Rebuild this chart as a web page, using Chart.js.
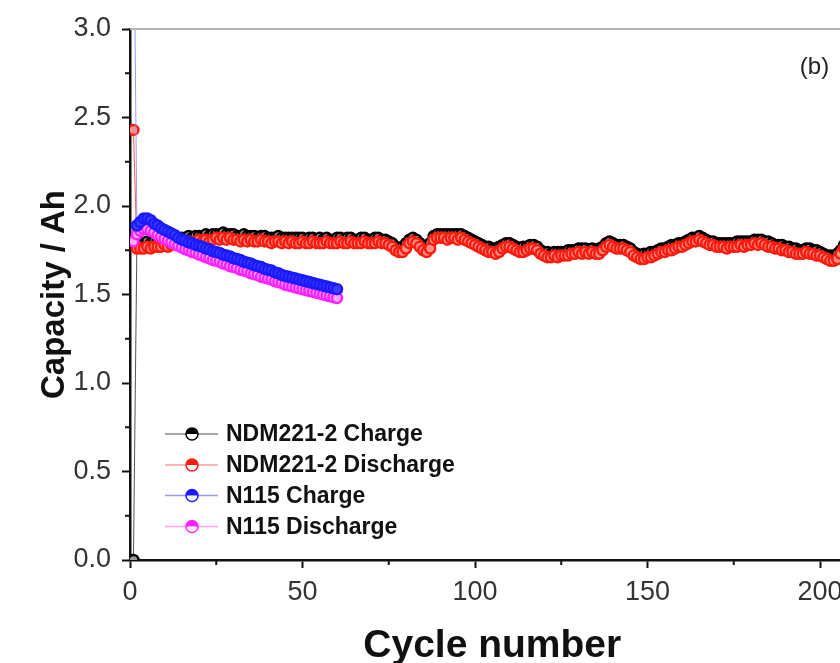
<!DOCTYPE html>
<html>
<head>
<meta charset="utf-8">
<script src="https://cdn.jsdelivr.net/npm/chart.js@4.4.1/dist/chart.umd.min.js"></script>
<style>
  html, body { margin: 0; padding: 0; background: #fff; }
  #wrap { width: 840px; height: 663px; overflow: hidden; position: relative; }
</style>
</head>
<body>
<div id="wrap"><canvas id="capacity" width="880" height="663"></canvas></div>
<script>
// NDM221-2 runs ~208 cycles, N115 only 60
const ndmCharge = [
  0.00, 1.79, 1.79, 1.79, 1.80, 1.79, 1.80, 1.80, 1.80, 1.81,
  1.80, 1.81, 1.82, 1.81, 1.82, 1.82, 1.83, 1.82, 1.83, 1.83,
  1.83, 1.84, 1.83, 1.84, 1.84, 1.84, 1.85, 1.84, 1.84, 1.84,
  1.83, 1.83, 1.84, 1.83, 1.83, 1.83, 1.82, 1.83, 1.83, 1.82,
  1.82, 1.82, 1.83, 1.82, 1.82, 1.82, 1.82, 1.82, 1.82, 1.82,
  1.81, 1.82, 1.82, 1.81, 1.82, 1.81, 1.82, 1.81, 1.81, 1.82,
  1.82, 1.81, 1.82, 1.82, 1.81, 1.81, 1.82, 1.82, 1.81, 1.81,
  1.82, 1.82, 1.81, 1.81, 1.80, 1.79, 1.77, 1.76, 1.77, 1.79,
  1.81, 1.82, 1.81, 1.79, 1.77, 1.77, 1.79, 1.83, 1.84, 1.84,
  1.84, 1.84, 1.84, 1.84, 1.84, 1.84, 1.83, 1.82, 1.81, 1.80,
  1.79, 1.78, 1.77, 1.77, 1.76, 1.76, 1.77, 1.78, 1.79, 1.79,
  1.78, 1.77, 1.76, 1.77, 1.77, 1.78, 1.78, 1.77, 1.75, 1.74,
  1.74, 1.73, 1.74, 1.74, 1.74, 1.74, 1.75, 1.75, 1.75, 1.76,
  1.76, 1.76, 1.75, 1.76, 1.75, 1.76, 1.77, 1.79, 1.80, 1.79,
  1.78, 1.78, 1.78, 1.77, 1.76, 1.74, 1.73, 1.72, 1.73, 1.73,
  1.74, 1.74, 1.75, 1.76, 1.76, 1.77, 1.78, 1.78, 1.79, 1.79,
  1.80, 1.81, 1.82, 1.82, 1.83, 1.82, 1.81, 1.80, 1.80, 1.79,
  1.79, 1.79, 1.79, 1.79, 1.79, 1.80, 1.80, 1.80, 1.80, 1.80,
  1.81, 1.81, 1.81, 1.80, 1.80, 1.79, 1.78, 1.78, 1.78, 1.77,
  1.77, 1.76, 1.76, 1.75, 1.75, 1.76, 1.76, 1.75, 1.75, 1.74,
  1.73, 1.72, 1.72, 1.72, 1.73, 1.75, 1.78, 1.77
];
const ndmDischarge = [
  2.43, 1.76, 1.76, 1.76, 1.77, 1.76, 1.77, 1.77, 1.77, 1.78,
  1.77, 1.78, 1.79, 1.78, 1.79, 1.79, 1.80, 1.79, 1.80, 1.81,
  1.80, 1.81, 1.80, 1.81, 1.82, 1.81, 1.82, 1.81, 1.82, 1.81,
  1.81, 1.80, 1.81, 1.80, 1.81, 1.80, 1.80, 1.81, 1.80, 1.80,
  1.79, 1.80, 1.80, 1.79, 1.80, 1.79, 1.80, 1.79, 1.79, 1.80,
  1.79, 1.79, 1.80, 1.79, 1.79, 1.79, 1.80, 1.79, 1.79, 1.79,
  1.80, 1.79, 1.79, 1.80, 1.79, 1.79, 1.79, 1.80, 1.79, 1.79,
  1.79, 1.80, 1.79, 1.79, 1.78, 1.77, 1.75, 1.74, 1.74, 1.76,
  1.79, 1.80, 1.79, 1.77, 1.75, 1.74, 1.76, 1.81, 1.82, 1.82,
  1.82, 1.81, 1.82, 1.82, 1.81, 1.82, 1.81, 1.80, 1.79, 1.78,
  1.77, 1.76, 1.75, 1.74, 1.74, 1.73, 1.74, 1.76, 1.77, 1.77,
  1.76, 1.75, 1.74, 1.74, 1.75, 1.76, 1.76, 1.75, 1.73, 1.72,
  1.71, 1.71, 1.72, 1.71, 1.72, 1.72, 1.72, 1.73, 1.73, 1.74,
  1.73, 1.74, 1.73, 1.74, 1.73, 1.73, 1.75, 1.77, 1.78, 1.77,
  1.76, 1.76, 1.76, 1.75, 1.74, 1.72, 1.71, 1.70, 1.70, 1.71,
  1.71, 1.72, 1.73, 1.74, 1.74, 1.75, 1.75, 1.76, 1.77, 1.77,
  1.78, 1.79, 1.80, 1.80, 1.81, 1.80, 1.79, 1.78, 1.78, 1.77,
  1.77, 1.77, 1.76, 1.77, 1.77, 1.77, 1.78, 1.77, 1.78, 1.78,
  1.79, 1.78, 1.79, 1.78, 1.77, 1.77, 1.76, 1.76, 1.75, 1.75,
  1.74, 1.74, 1.73, 1.73, 1.73, 1.74, 1.73, 1.73, 1.72, 1.72,
  1.71, 1.70, 1.69, 1.69, 1.70, 1.73, 1.76, 1.75
];
const n115Charge = [
  3.90, 1.89, 1.91, 1.93, 1.93, 1.92, 1.90, 1.89, 1.875, 1.865,
  1.855, 1.845, 1.835, 1.82, 1.81, 1.805, 1.795, 1.79, 1.78, 1.775,
  1.77, 1.76, 1.755, 1.745, 1.74, 1.735, 1.725, 1.72, 1.715, 1.705,
  1.70, 1.695, 1.685, 1.68, 1.675, 1.665, 1.66, 1.655, 1.645, 1.64,
  1.635, 1.625, 1.62, 1.61, 1.605, 1.60, 1.595, 1.59, 1.585, 1.58,
  1.575, 1.57, 1.565, 1.56, 1.555, 1.55, 1.545, 1.54, 1.535, 1.53
];
const n115Discharge = [
  1.80, 1.84, 1.86, 1.87, 1.87, 1.86, 1.85, 1.835, 1.825, 1.815,
  1.805, 1.795, 1.785, 1.775, 1.765, 1.755, 1.75, 1.74, 1.735, 1.725,
  1.72, 1.71, 1.705, 1.695, 1.69, 1.685, 1.675, 1.67, 1.66, 1.655,
  1.65, 1.64, 1.635, 1.63, 1.62, 1.615, 1.61, 1.60, 1.595, 1.59,
  1.585, 1.575, 1.57, 1.565, 1.555, 1.55, 1.545, 1.54, 1.535, 1.53,
  1.525, 1.52, 1.515, 1.51, 1.505, 1.50, 1.495, 1.49, 1.485, 1.48
];
const seriesNames = ["NDM221-2 Charge", "NDM221-2 Discharge", "N115 Charge", "N115 Discharge"];
const xTicksMinor = [25, 75, 125, 175];
const yTicksMinor = [0.25, 0.75, 1.25, 1.75, 2.25, 2.75];

const FONT = "'Liberation Sans', Arial, sans-serif";

const toPoints = (vals) => vals.map((v, i) => ({ x: i + 1, y: v }));

const styles = [
  { mark: "#000000", line: "#555555", soft: "#8a8a8a", fill: "#9a9a9a" },
  { mark: "#ff1a0d", line: "#ff5a50", soft: "#ff9c96", fill: "#ff9088" },
  { mark: "#1a1aff", line: "#9a9aff", soft: "#9a9aff", fill: "#3c3cff" },
  { mark: "#ff22ff", line: "#ff90ff", soft: "#ff9cff", fill: "#ffa8ff" },
];
const allData = [ndmCharge, ndmDischarge, n115Charge, n115Discharge];
// lower order is painted last (on top): blue over magenta over red over black
const drawOrder = [4, 3, 1, 2];

const datasets = allData.map((vals, i) => ({
  label: seriesNames[i],
  data: toPoints(vals),
  borderColor: styles[i].line,
  borderWidth: 1,
  pointRadius: 5,
  pointBorderWidth: 2.5,
  pointBorderColor: styles[i].mark,
  pointBackgroundColor: styles[i].fill,
  order: drawOrder[i],
}));

// minor ticks, top frame, legend and panel label
const extras = {
  id: "extras",
  afterDraw(chart) {
    const ctx = chart.ctx;
    const a = chart.chartArea;
    const xs = chart.scales.x, ys = chart.scales.y;
    ctx.save();
    ctx.strokeStyle = "#b4b4b4";
    ctx.lineWidth = 2;
    ctx.beginPath();
    ctx.moveTo(a.left, a.top);
    ctx.lineTo(a.right, a.top);
    ctx.stroke();

    ctx.strokeStyle = "#111";
    ctx.lineWidth = 2;
    xTicksMinor.forEach((v) => {
      const px = xs.getPixelForValue(v);
      ctx.beginPath();
      ctx.moveTo(px, a.bottom);
      ctx.lineTo(px, a.bottom + 5);
      ctx.stroke();
    });
    yTicksMinor.forEach((v) => {
      const py = ys.getPixelForValue(v);
      ctx.beginPath();
      ctx.moveTo(a.left, py);
      ctx.lineTo(a.left - 5, py);
      ctx.stroke();
    });

    // legend
    const rowY = [a.bottom - 126, a.bottom - 95, a.bottom - 64.5, a.bottom - 33.5];
    seriesNames.forEach((name, i) => {
      const y = rowY[i];
      const mx = a.left + 62;
      ctx.strokeStyle = styles[i].soft;
      ctx.lineWidth = 1.5;
      ctx.beginPath();
      ctx.moveTo(a.left + 35, y);
      ctx.lineTo(a.left + 88, y);
      ctx.stroke();
      ctx.fillStyle = "#ffffff";
      ctx.beginPath();
      ctx.arc(mx, y, 6, 0, Math.PI * 2);
      ctx.fill();
      ctx.fillStyle = styles[i].mark;
      ctx.beginPath();
      ctx.arc(mx, y, 6, Math.PI, Math.PI * 2);
      ctx.fill();
      ctx.strokeStyle = styles[i].mark;
      ctx.lineWidth = 1.5;
      ctx.beginPath();
      ctx.arc(mx, y, 6, 0, Math.PI * 2);
      ctx.stroke();
      ctx.fillStyle = "#111";
      ctx.font = "bold 23px " + FONT;
      ctx.textAlign = "left";
      ctx.textBaseline = "middle";
      ctx.fillText(name, a.left + 96, y + 1);
    });

    ctx.fillStyle = "#222";
    ctx.font = "24px " + FONT;
    ctx.textAlign = "center";
    ctx.textBaseline = "middle";
    ctx.fillText("(b)", a.right - 40, a.top + 38);
    ctx.restore();
  },
};

new Chart(document.getElementById("capacity"), {
  type: "line",
  data: { datasets },
  options: {
    responsive: false,
    animation: false,
    devicePixelRatio: 1,
    layout: { padding: { left: 0, top: 29, right: 25.5, bottom: 0 } },
    plugins: { legend: { display: false }, tooltip: { enabled: false } },
    scales: {
      x: {
        type: "linear",
        min: 0,
        max: 210,
        border: { display: true, color: "#111", width: 2.5 },
        grid: { display: true, drawOnChartArea: false, drawTicks: true, tickLength: 8, tickWidth: 2, tickColor: "#111" },
        ticks: {
          stepSize: 50,
          includeBounds: false,
          padding: 8,
          color: "#333",
          font: { family: FONT, size: 27 },
          maxRotation: 0,
        },
        title: {
          display: true,
          text: "Cycle number",
          color: "#111",
          font: { family: FONT, size: 39, weight: "bold", lineHeight: 1 },
          padding: { top: 0, bottom: -3 },
        },
        afterFit(scale) { scale.height = 103; },
      },
      y: {
        min: 0,
        max: 3.0,
        border: { display: true, color: "#111", width: 2.5 },
        grid: { display: true, drawOnChartArea: false, drawTicks: true, tickLength: 8, tickWidth: 2, tickColor: "#111" },
        ticks: {
          stepSize: 0.5,
          padding: 11,
          color: "#333",
          font: { family: FONT, size: 27 },
          callback: (v) => Number(v).toFixed(1),
        },
        title: {
          display: true,
          text: "Capacity / Ah",
          color: "#111",
          font: { family: FONT, size: 33, weight: "bold", lineHeight: 1 },
          padding: { top: 38, bottom: 0 },
        },
        afterFit(scale) { scale.width = 130; },
      },
    },
  },
  plugins: [extras],
});
</script>
</body>
</html>
